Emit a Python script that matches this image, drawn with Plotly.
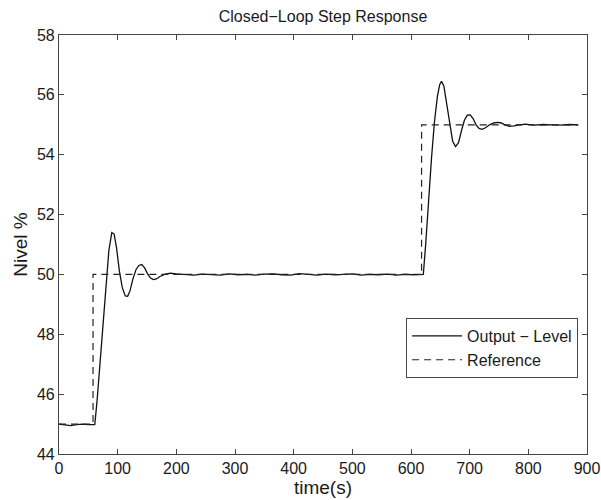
import plotly.graph_objects as go

# Output (measured level) samples
out_time = [0, 10, 20, 30, 40, 50, 58, 61, 65, 70, 75, 80, 85, 90, 94, 98, 103, 108, 113, 117,
            121, 126, 131, 136, 141, 146, 151, 156, 161, 166, 172, 180, 190, 200,
            215, 230, 245, 260, 275, 290, 305, 320, 335, 350, 365, 380, 395, 410, 425,
            440, 455, 470, 485, 500, 515, 530, 545, 560, 575, 590, 605, 621,
            625, 630, 635, 640, 645, 649, 652, 656, 661, 666, 671, 676, 681, 686, 691,
            696, 701, 706, 711, 716, 721, 727, 734, 741, 748, 754, 760, 768, 776, 784,
            795, 810, 825, 840, 855, 870, 885]
out_level = [45.0, 44.97, 44.95, 44.98, 45.0, 44.98, 44.97, 44.98, 45.8, 47.1, 48.4, 49.8, 50.8, 51.4, 51.35, 50.9, 50.1, 49.55, 49.28, 49.27,
             49.45, 49.85, 50.15, 50.3, 50.33, 50.22, 50.02, 49.88, 49.83, 49.85, 49.93, 50.0, 50.04, 50.02,
             49.99, 49.98, 50.01, 50.0, 49.98, 50.02, 49.99, 50.0, 49.98, 50.01, 50.02, 49.99, 49.98, 50.03, 50.0,
             49.98, 50.01, 49.99, 50.0, 50.02, 49.98, 50.0, 49.99, 50.01, 49.98, 50.0, 49.99, 50.0,
             51.0, 52.5, 53.9, 55.1, 55.95, 56.35, 56.45, 56.3, 55.7, 54.95, 54.45, 54.27, 54.4, 54.8, 55.15,
             55.32, 55.33, 55.2, 55.0, 54.88, 54.85, 54.9, 55.0, 55.06, 55.08, 55.06, 55.0, 54.95, 54.96, 55.0,
             55.02, 54.99, 55.01, 55.0, 54.99, 55.01, 55.0]

# Reference (set-point) step signal
ref_time = [0, 58, 58, 618, 618, 885]
ref_level = [45, 45, 50, 50, 55, 55]

x_ticks = [0, 100, 200, 300, 400, 500, 600, 700, 800, 900]
y_ticks = [44, 46, 48, 50, 52, 54, 56, 58]

font_family = "Liberation Sans, Arial, sans-serif"
text_color = "#1a1a1a"

fig = go.Figure()
fig.add_trace(go.Scatter(x=out_time, y=out_level, mode="lines", name="Output \u2212 Level",
                         line=dict(color="#111111", width=1.3)))
fig.add_trace(go.Scatter(x=ref_time, y=ref_level, mode="lines", name="Reference",
                         line=dict(color="#222222", width=1.2, dash="7px,5px")))

axis_common = dict(showgrid=False, zeroline=False, showline=True, linecolor="#444444", linewidth=1.2,
                   mirror="ticks", ticks="inside", ticklen=5, tickcolor="#444444",
                   automargin=False,
                   tickfont=dict(size=16, color=text_color, family=font_family))

fig.update_layout(
    width=601, height=500,
    margin=dict(l=59, r=14, t=35, b=46),
    paper_bgcolor="white", plot_bgcolor="white",
    font=dict(family=font_family, size=16, color=text_color),
    title=dict(text="Closed\u2212Loop Step Response", x=0.5, xanchor="center", xref="paper",
               y=0.968, yanchor="middle", font=dict(size=16)),
    xaxis=dict(range=[0, 900], tickvals=x_ticks, title=dict(text="time(s)", standoff=1), **axis_common),
    yaxis=dict(range=[44, 58], tickvals=y_ticks, title=dict(text="Nivel %", standoff=4), **axis_common),
    legend=dict(x=0.657, y=0.325, xanchor="left", yanchor="top", bgcolor="white",
                bordercolor="#444444", borderwidth=1.2, font=dict(size=16), itemwidth=50,
                tracegroupgap=0),
    showlegend=True,
)

fig.write_html("out.html", config={"displayModeBar": False},
               post_script="document.body.style.margin='0';document.body.style.overflow='hidden';")
